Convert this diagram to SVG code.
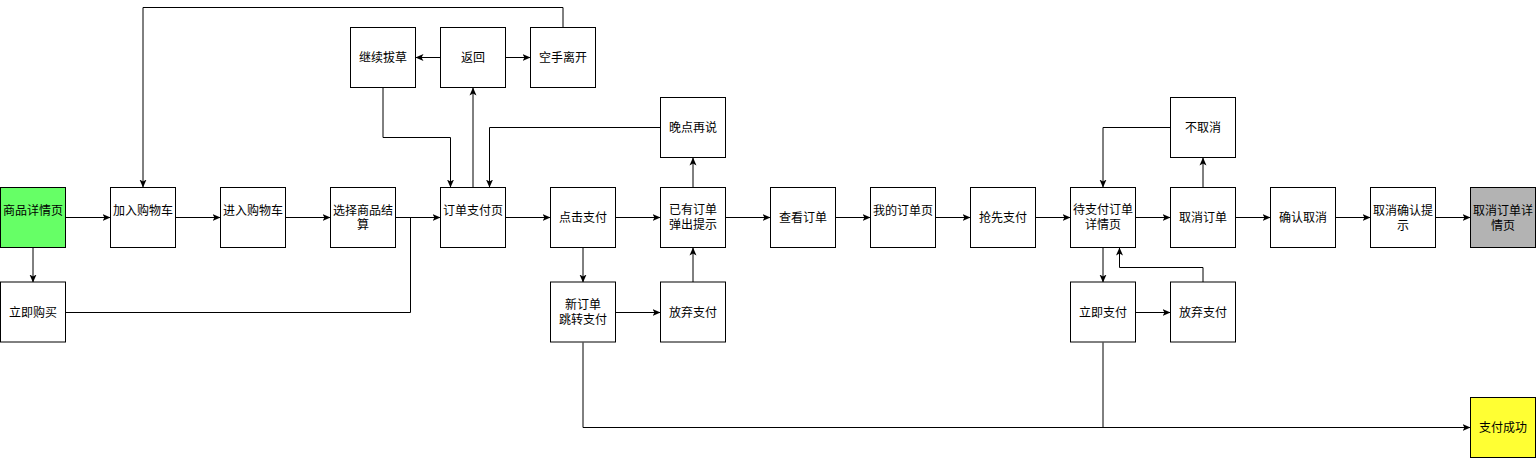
<svg xmlns="http://www.w3.org/2000/svg" width="1536" height="458" viewBox="0 0 1536 458">
<style>
.box{fill:#ffffff;stroke:#000000;stroke-width:1}
.t{font-family:"Liberation Sans","Noto Sans CJK SC",sans-serif;font-size:12px;fill:#000000;text-anchor:middle;dominant-baseline:central}
.c{fill:none;stroke:#000000;stroke-width:1}
.a{marker-end:url(#arr)}
</style>
<defs>
<marker id="arr" markerUnits="userSpaceOnUse" markerWidth="8" markerHeight="8" viewBox="0 0 8 8" refX="8" refY="4" orient="auto">
<path d="M0,0.5 L8,4 L0,7.5 L2,4 Z" fill="#000000"/>
</marker>
</defs>
<rect width="1536" height="458" fill="#ffffff"/>
<g id="connectors">
<path class="c a" d="M65.5,217.5 H110.5"/>
<path class="c a" d="M175.5,217.5 H220.5"/>
<path class="c a" d="M285.5,217.5 H330.5"/>
<path class="c a" d="M395.5,217.5 H440.5"/>
<path class="c a" d="M505.5,217.5 H550.5"/>
<path class="c a" d="M615.5,217.5 H660.5"/>
<path class="c a" d="M725.5,217.5 H770.5"/>
<path class="c a" d="M835.5,217.5 H870.5"/>
<path class="c a" d="M935.5,217.5 H970.5"/>
<path class="c a" d="M1035.5,217.5 H1070.5"/>
<path class="c a" d="M1135.5,217.5 H1170.5"/>
<path class="c a" d="M1235.5,217.5 H1270.5"/>
<path class="c a" d="M1335.5,217.5 H1370.5"/>
<path class="c a" d="M1435.5,217.5 H1470.5"/>
<path class="c a" d="M33,247.5 V282.5"/>
<path class="c" d="M65.5,312.5 H410.5 V217.5"/>
<path class="c a" d="M473,187.5 V87.5"/>
<path class="c a" d="M440.5,57.5 H415.5"/>
<path class="c a" d="M505.5,57.5 H530.5"/>
<path class="c a" d="M563,27.5 V7.5 H143 V187.5"/>
<path class="c a" d="M383,87.5 V137.5 H450.5 V187.5"/>
<path class="c a" d="M660.5,127.5 H489.5 V187.5"/>
<path class="c a" d="M583,247.5 V282.5"/>
<path class="c a" d="M615.5,312.5 H660.5"/>
<path class="c a" d="M693,282.5 V247.5"/>
<path class="c a" d="M693,187.5 V157.5"/>
<path class="c a" d="M583,342.5 V427.5 H1470.5"/>
<path class="c" d="M1103,342.5 V427.5"/>
<path class="c a" d="M1203,187.5 V157.5"/>
<path class="c a" d="M1170.5,127.5 H1103 V187.5"/>
<path class="c a" d="M1103,247.5 V282.5"/>
<path class="c a" d="M1135.5,312.5 H1170.5"/>
<path class="c a" d="M1203,282.5 V267.5 H1119.5 V247.5"/>
</g>
<g id="n1"><rect class="box" x="0.5" y="187.5" width="65" height="60" style="fill:#66FF66"/><text class="t" x="33" y="211">商品详情页</text></g>
<g id="n2"><rect class="box" x="110.5" y="187.5" width="65" height="60"/><text class="t" x="143" y="211">加入购物车</text></g>
<g id="n3"><rect class="box" x="220.5" y="187.5" width="65" height="60"/><text class="t" x="253" y="211">进入购物车</text></g>
<g id="n4"><rect class="box" x="330.5" y="187.5" width="65" height="60"/><text class="t" x="363" y="210.5">选择商品结</text><text class="t" x="363" y="224.5">算</text></g>
<g id="n5"><rect class="box" x="440.5" y="187.5" width="65" height="60"/><text class="t" x="473" y="211">订单支付页</text></g>
<g id="n6"><rect class="box" x="550.5" y="187.5" width="65" height="60"/><text class="t" x="583" y="217.5">点击支付</text></g>
<g id="n7"><rect class="box" x="660.5" y="187.5" width="65" height="60"/><text class="t" x="693" y="210">已有订单</text><text class="t" x="693" y="225">弹出提示</text></g>
<g id="n8"><rect class="box" x="770.5" y="187.5" width="65" height="60"/><text class="t" x="803" y="217.5">查看订单</text></g>
<g id="n9"><rect class="box" x="870.5" y="187.5" width="65" height="60"/><text class="t" x="903" y="210.5">我的订单页</text></g>
<g id="n10"><rect class="box" x="970.5" y="187.5" width="65" height="60"/><text class="t" x="1003" y="217.5">抢先支付</text></g>
<g id="n11"><rect class="box" x="1070.5" y="187.5" width="65" height="60"/><text class="t" x="1103" y="210">待支付订单</text><text class="t" x="1103" y="225">详情页</text></g>
<g id="n12"><rect class="box" x="1170.5" y="187.5" width="65" height="60"/><text class="t" x="1203" y="217.5">取消订单</text></g>
<g id="n13"><rect class="box" x="1270.5" y="187.5" width="65" height="60"/><text class="t" x="1303" y="217.5">确认取消</text></g>
<g id="n14"><rect class="box" x="1370.5" y="187.5" width="65" height="60"/><text class="t" x="1403" y="210.5">取消确认提</text><text class="t" x="1403" y="225.5">示</text></g>
<g id="n15"><rect class="box" x="1470.5" y="187.5" width="65" height="60" style="fill:#B3B3B3"/><text class="t" x="1503" y="210.5">取消订单详</text><text class="t" x="1503" y="225.5">情页</text></g>
<g id="n16"><rect class="box" x="350.5" y="27.5" width="65" height="60"/><text class="t" x="383" y="57.5">继续拔草</text></g>
<g id="n17"><rect class="box" x="440.5" y="27.5" width="65" height="60"/><text class="t" x="473" y="57.5">返回</text></g>
<g id="n18"><rect class="box" x="530.5" y="27.5" width="65" height="60"/><text class="t" x="563" y="57.5">空手离开</text></g>
<g id="n19"><rect class="box" x="660.5" y="97.5" width="65" height="60"/><text class="t" x="693" y="127.5">晚点再说</text></g>
<g id="n20"><rect class="box" x="1170.5" y="97.5" width="65" height="60"/><text class="t" x="1203" y="127.5">不取消</text></g>
<g id="n21"><rect class="box" x="0.5" y="282" width="65" height="60"/><text class="t" x="33" y="312.5">立即购买</text></g>
<g id="n22"><rect class="box" x="550.5" y="282" width="65" height="60"/><text class="t" x="583" y="305">新订单</text><text class="t" x="583" y="320">跳转支付</text></g>
<g id="n23"><rect class="box" x="660.5" y="282" width="65" height="60"/><text class="t" x="693" y="312.5">放弃支付</text></g>
<g id="n24"><rect class="box" x="1070.5" y="282" width="65" height="60"/><text class="t" x="1103" y="312.5">立即支付</text></g>
<g id="n25"><rect class="box" x="1170.5" y="282" width="65" height="60"/><text class="t" x="1203" y="312.5">放弃支付</text></g>
<g id="n26"><rect class="box" x="1470.5" y="397.5" width="65" height="60" style="fill:#FFFF33"/><text class="t" x="1503" y="427.5">支付成功</text></g>
</svg>
